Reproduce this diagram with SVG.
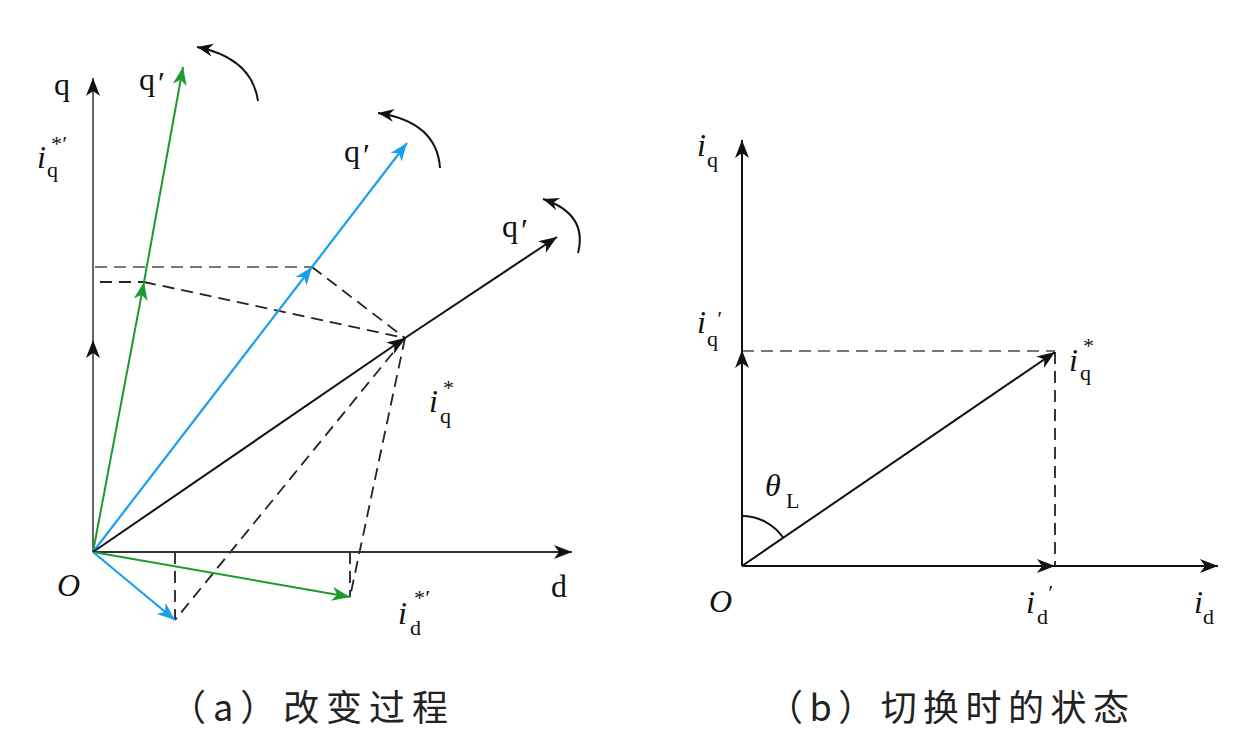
<svg xmlns="http://www.w3.org/2000/svg" width="1260" height="744" viewBox="0 0 1260 744">
<style>
.ax{stroke:#333;stroke-width:2;fill:none}
.axg{stroke:#666;stroke-width:2;fill:none}
.vk{stroke:#111;stroke-width:2;fill:none}
.vg{stroke:#1e9a2e;stroke-width:2;fill:none}
.vb{stroke:#1a9fe8;stroke-width:2.2;fill:none}
.dk{stroke:#222;stroke-width:1.8;fill:none;stroke-dasharray:12 7}
.dg{stroke:#777;stroke-width:1.8;fill:none;stroke-dasharray:12 7}
.t{font-family:"Liberation Serif","Times New Roman",serif;fill:#111}
.mi{font-size:32px;font-style:italic}
.up{font-size:32px}
.sb{font-size:22px}
.pr{font-size:22px;font-style:italic}
.cap{font-family:"Noto Sans CJK SC","Noto Sans",sans-serif;font-size:36px;fill:#222}
</style>
<defs>
<marker id="ak" viewBox="-20 -10 22 20" refX="0" refY="0" markerWidth="22" markerHeight="20" orient="auto" markerUnits="userSpaceOnUse"><path d="M0,0 L-18,-7 L-13,0 L-18,7 Z" fill="#111"/></marker>
<marker id="ag" viewBox="-20 -10 22 20" refX="0" refY="0" markerWidth="22" markerHeight="20" orient="auto" markerUnits="userSpaceOnUse"><path d="M0,0 L-18,-7 L-13,0 L-18,7 Z" fill="#1e9a2e"/></marker>
<marker id="ab" viewBox="-20 -10 22 20" refX="0" refY="0" markerWidth="22" markerHeight="20" orient="auto" markerUnits="userSpaceOnUse"><path d="M0,0 L-18,-7 L-13,0 L-18,7 Z" fill="#1a9fe8"/></marker>
<marker id="ar" viewBox="-20 -10 22 20" refX="0" refY="0" markerWidth="22" markerHeight="20" orient="auto" markerUnits="userSpaceOnUse"><path d="M0,0 L-16,-6.5 L-11,0 L-16,6.5 Z" fill="#111"/></marker>
</defs>

<g id="panel-a">
<g id="a-dashed">
<line class="dg" x1="95" y1="267" x2="312" y2="267"/>
<line class="dk" x1="100" y1="282" x2="144" y2="282"/>
<line class="dk" x1="144" y1="282" x2="405" y2="338"/>
<line class="dk" x1="312" y1="267" x2="405" y2="338"/>
<line class="dk" x1="405" y1="338" x2="175" y2="620"/>
<line class="dk" x1="405" y1="338" x2="350" y2="597"/>
<line class="dk" x1="175" y1="552" x2="175" y2="620"/>
<line class="dk" x1="350" y1="552" x2="350" y2="597"/>
</g>
<g id="a-axes">
<line class="axg" x1="93" y1="552" x2="93" y2="340" marker-end="url(#ak)"/>
<line class="axg" x1="93" y1="340" x2="93" y2="78" marker-end="url(#ak)"/>
<line class="ax" x1="93" y1="552" x2="572" y2="552" marker-end="url(#ak)"/>
</g>
<g id="a-vectors">
<line class="vg" x1="93" y1="552" x2="144" y2="282" marker-end="url(#ag)"/>
<line class="vg" x1="144" y1="282" x2="183" y2="67" marker-end="url(#ag)"/>
<line class="vg" x1="93" y1="552" x2="350" y2="597" marker-end="url(#ag)"/>
<line class="vb" x1="93" y1="552" x2="312" y2="267" marker-end="url(#ab)"/>
<line class="vb" x1="312" y1="267" x2="407" y2="143" marker-end="url(#ab)"/>
<line class="vb" x1="93" y1="552" x2="175" y2="620" marker-end="url(#ab)"/>
<line class="vk" x1="93" y1="552" x2="405" y2="338" marker-end="url(#ak)"/>
<line class="vk" x1="405" y1="338" x2="557" y2="237" marker-end="url(#ak)"/>
</g>
<g id="a-rotation">
<path class="vk" d="M258,101 Q252,58 197,47" marker-end="url(#ar)"/>
<path class="vk" d="M440,168 Q437,122 378,113" marker-end="url(#ar)"/>
<path class="vk" d="M578,253 Q588,214 543,199" marker-end="url(#ar)"/>
</g>
<g id="a-labels" class="t">
<text class="up" x="54" y="95">q</text>
<text class="up" x="139" y="90">q<tspan dx="3" dy="4">′</tspan></text>
<text class="up" x="344" y="162">q<tspan dx="3" dy="4">′</tspan></text>
<text class="up" x="502" y="237">q<tspan dx="3" dy="4">′</tspan></text>
<text class="mi" x="37" y="168">i</text><text class="sb" x="47" y="177">q</text><text class="pr" x="50" y="151">*′</text>
<text class="mi" x="429" y="412">i</text><text class="sb" x="440" y="423">q</text><text class="sb" x="443" y="395">*</text>
<text class="mi" x="398" y="624">i</text><text class="sb" x="410" y="635">d</text><text class="pr" x="413" y="605">*′</text>
<text class="up" x="551" y="597">d</text>
<text class="mi" x="57" y="596">O</text>
</g>
</g>

<g id="panel-b">
<g id="b-dashed">
<line class="dg" x1="742" y1="351" x2="1055" y2="351"/>
<line class="dk" x1="1055" y1="352" x2="1055" y2="566"/>
</g>
<g id="b-axes">
<line class="vk" x1="742" y1="566" x2="742" y2="350" marker-end="url(#ak)"/>
<line class="vk" x1="742" y1="350" x2="742" y2="140" marker-end="url(#ak)"/>
<line class="vk" x1="742" y1="566" x2="1055" y2="566" marker-end="url(#ak)"/>
<line class="vk" x1="1055" y1="566" x2="1218" y2="566" marker-end="url(#ak)"/>
</g>
<g id="b-vector">
<line class="vk" x1="742" y1="566" x2="1055" y2="352" marker-end="url(#ak)"/>
<path class="vk" d="M742,516 A50,50 0 0 1 783.3,537.8"/>
</g>
<g id="b-labels" class="t">
<text class="mi" x="697" y="156">i</text><text class="sb" x="707" y="167">q</text>
<text class="mi" x="697" y="333">i</text><text class="sb" x="707" y="346">q</text><text class="pr" x="716" y="326">′</text>
<text class="mi" x="1069" y="371">i</text><text class="sb" x="1080" y="380">q</text><text class="sb" x="1083" y="353">*</text>
<text class="mi" x="765" y="496">θ</text><text class="sb" x="786" y="508">L</text>
<text class="mi" x="709" y="612">O</text>
<text class="mi" x="1026" y="613">i</text><text class="sb" x="1037" y="624">d</text><text class="pr" x="1047" y="600">′</text>
<text class="mi" x="1194" y="613">i</text><text class="sb" x="1203" y="624">d</text>
</g>
</g>

<g id="captions">
<text class="cap" x="170" y="721" textLength="278" lengthAdjust="spacing">（a）改变过程</text>
<text class="cap" x="767" y="721" textLength="362" lengthAdjust="spacing">（b）切换时的状态</text>
</g>
</svg>
